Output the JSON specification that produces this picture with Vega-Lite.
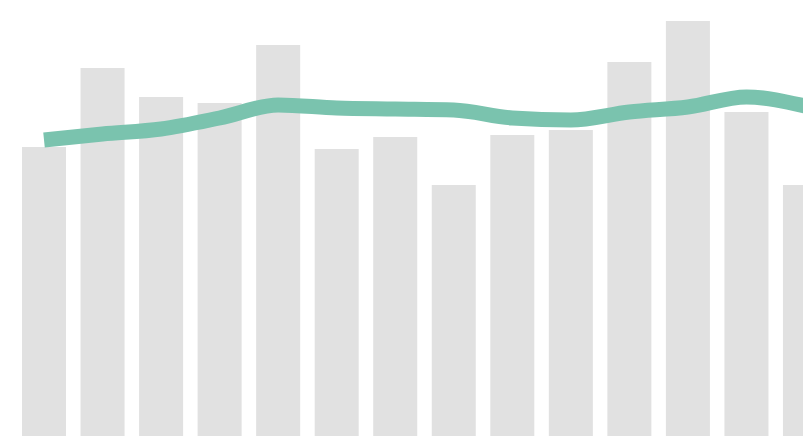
{
  "$schema": "https://vega.github.io/schema/vega-lite/v6.json",
  "width": 849,
  "height": 436,
  "autosize": {"type": "none"},
  "padding": 0,
  "background": "white",
  "config": {"view": {"stroke": null}},
  "data": {
    "values": [
      {"i": 1, "bar": 289, "line": 296},
      {"i": 2, "bar": 368, "line": 302},
      {"i": 3, "bar": 339, "line": 307},
      {"i": 4, "bar": 333, "line": 318},
      {"i": 5, "bar": 391, "line": 331},
      {"i": 6, "bar": 287, "line": 328},
      {"i": 7, "bar": 299, "line": 327},
      {"i": 8, "bar": 251, "line": 326},
      {"i": 9, "bar": 301, "line": 318},
      {"i": 10, "bar": 306, "line": 316},
      {"i": 11, "bar": 374, "line": 324},
      {"i": 12, "bar": 415, "line": 329},
      {"i": 13, "bar": 324, "line": 339},
      {"i": 14, "bar": 251, "line": 330}
    ]
  },
  "encoding": {
    "x": {
      "field": "i",
      "type": "ordinal",
      "axis": null,
      "scale": {"paddingInner": 0.248, "paddingOuter": 0.376}
    }
  },
  "layer": [
    {
      "mark": {"type": "bar", "color": "#e1e1e1"},
      "encoding": {
        "y": {"field": "bar", "type": "quantitative", "axis": null, "scale": {"domain": [0, 436], "nice": false}}
      }
    },
    {
      "mark": {"type": "line", "color": "#7ac3ae", "strokeWidth": 15, "interpolate": "monotone", "strokeCap": "butt"},
      "encoding": {
        "y": {"field": "line", "type": "quantitative", "axis": null, "scale": {"domain": [0, 436], "nice": false}}
      }
    }
  ]
}
